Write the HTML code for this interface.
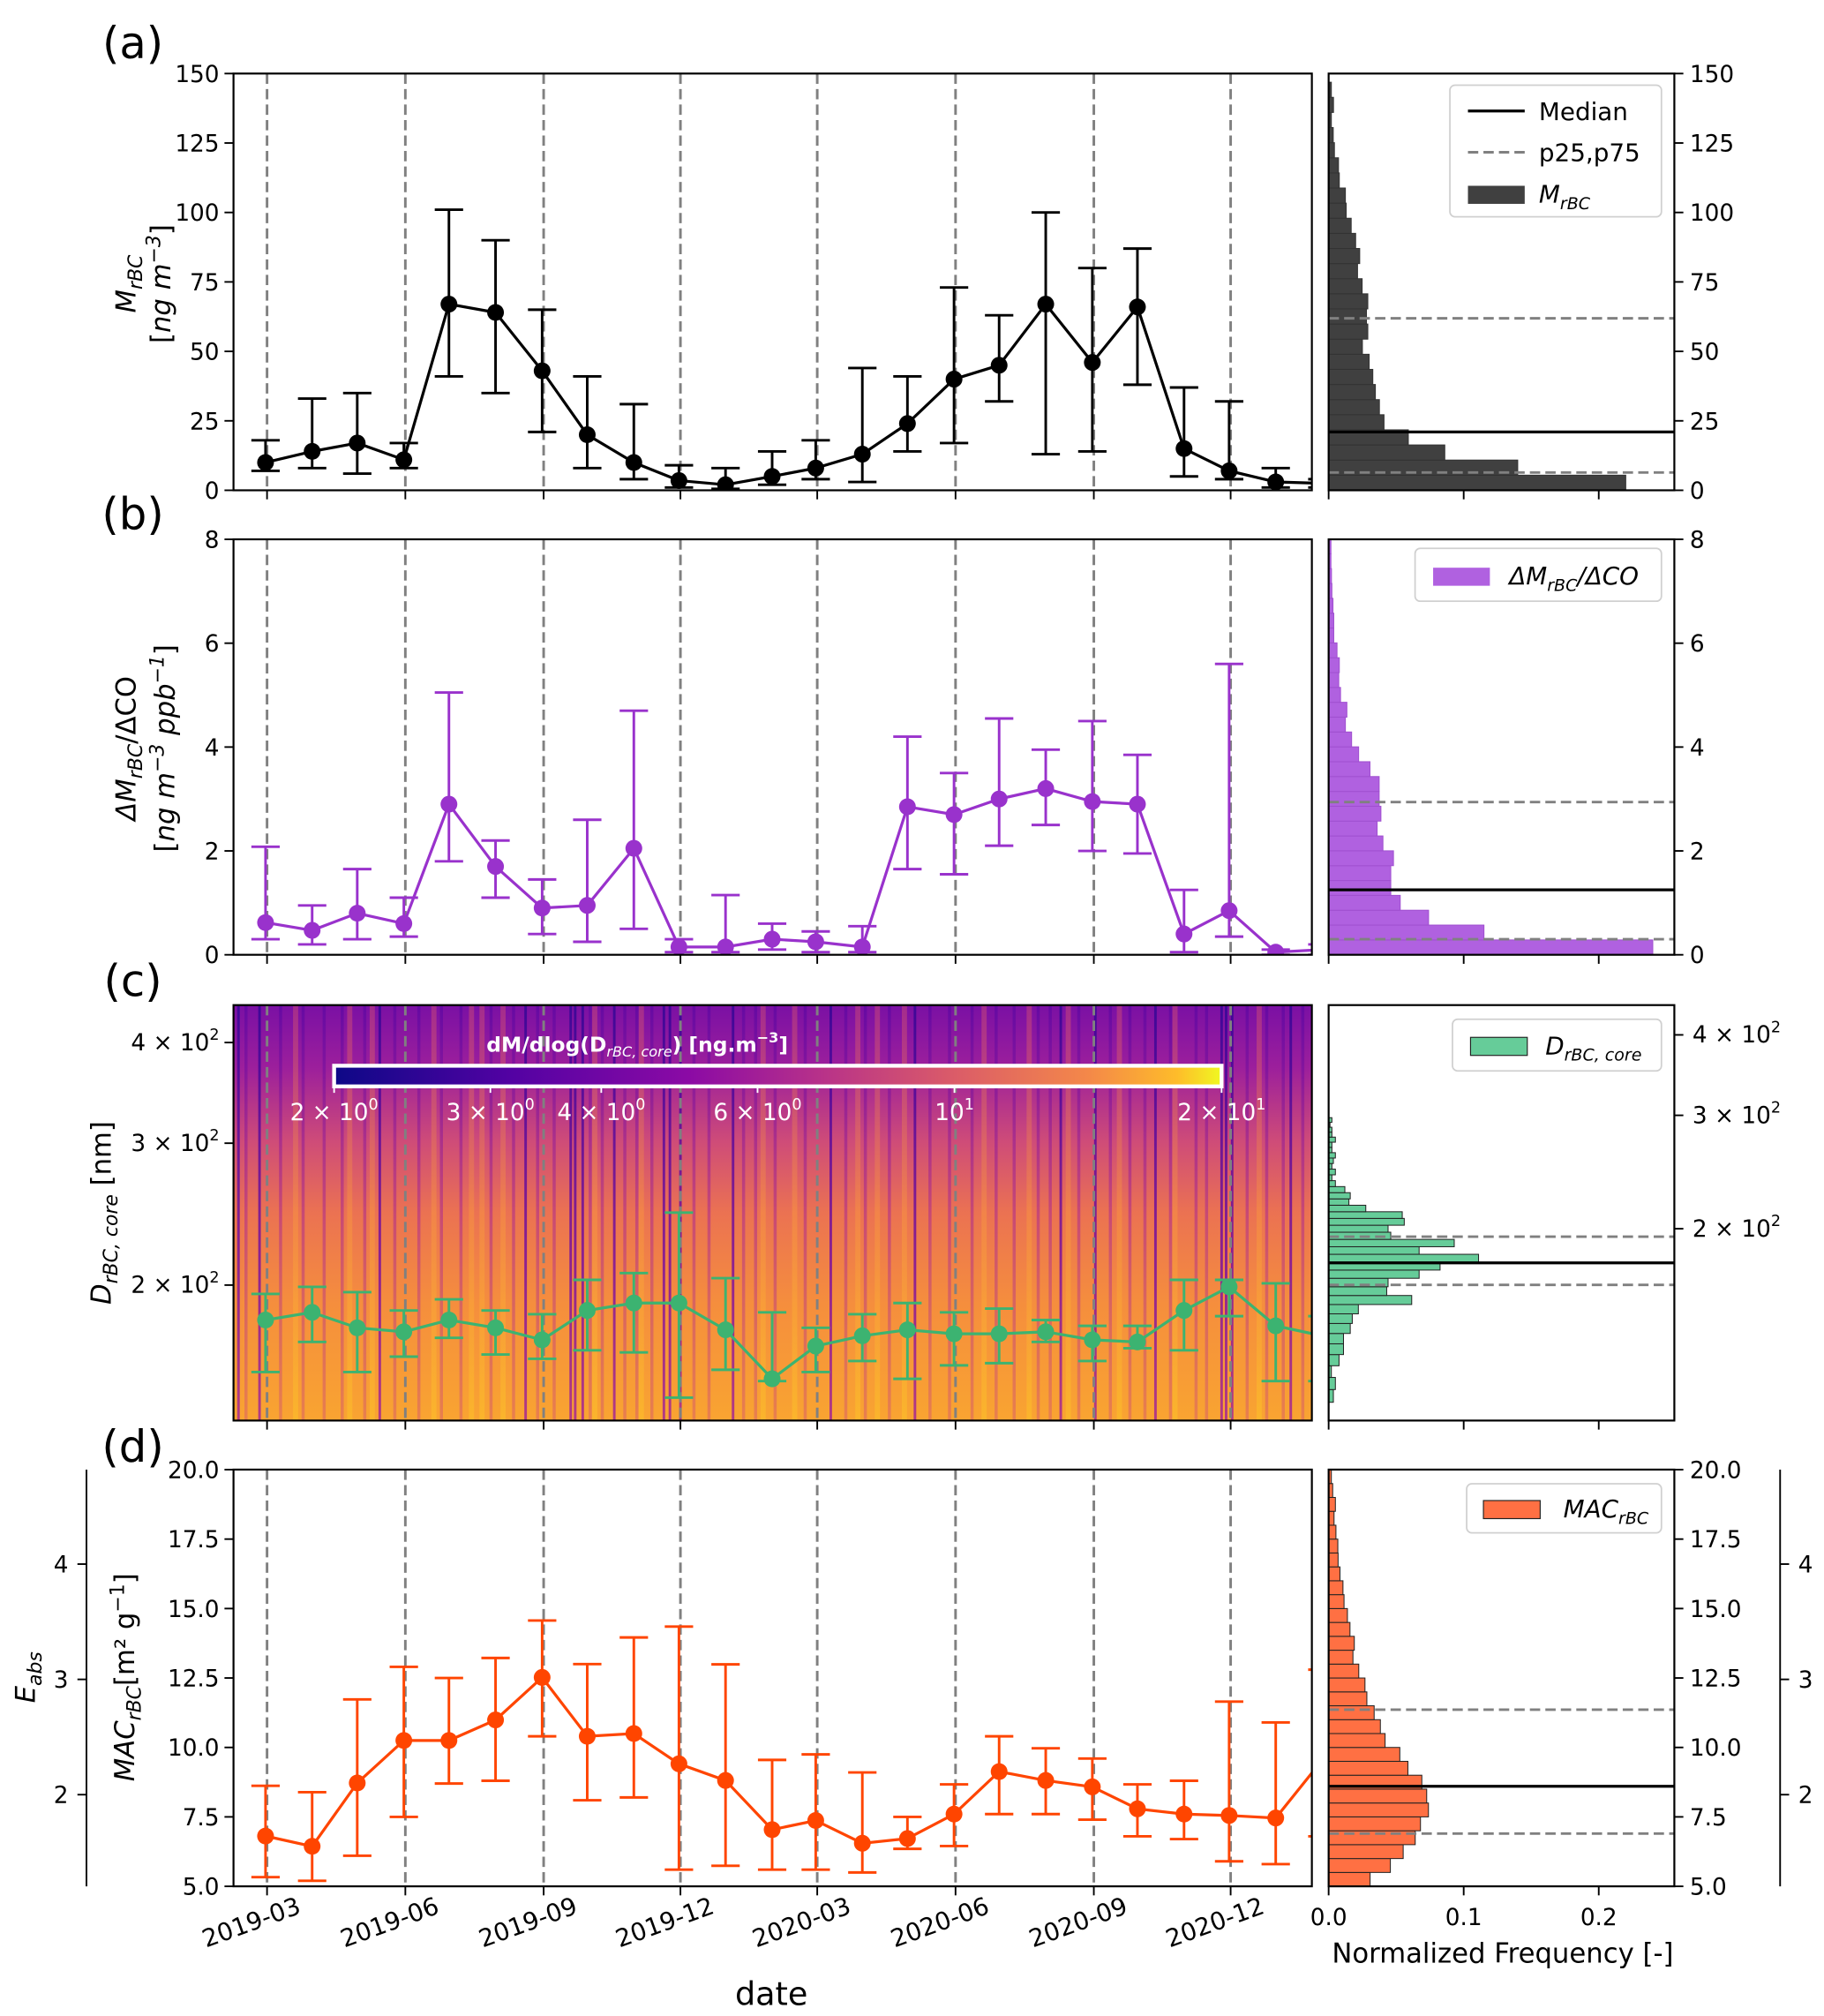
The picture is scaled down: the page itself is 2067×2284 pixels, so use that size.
<!DOCTYPE html>
<html><head><meta charset="utf-8">
<style>
html,body{margin:0;padding:0;background:#fff;}
svg{display:block;font-family:"DejaVu Sans","Liberation Sans",sans-serif;}
</style></head>
<body>
<svg id="fig" xmlns="http://www.w3.org/2000/svg" width="2067" height="2284" viewBox="0 0 1414 1562.5">
<defs>
<linearGradient id="heatGrad" x1="0" y1="0" x2="0" y2="1">
<stop offset="0" stop-color="#7a10a4"/>
<stop offset="0.15" stop-color="#9c1f9c"/>
<stop offset="0.33" stop-color="#cf4c78"/>
<stop offset="0.5" stop-color="#eb7252"/>
<stop offset="0.72" stop-color="#f58e3d"/>
<stop offset="1" stop-color="#f9a431"/>
</linearGradient>
<linearGradient id="plasma" x1="0" y1="0" x2="1" y2="0">
<stop offset="0" stop-color="#0d0887"/>
<stop offset="0.2" stop-color="#5302a3"/>
<stop offset="0.4" stop-color="#8b0aa5"/>
<stop offset="0.55" stop-color="#b83289"/>
<stop offset="0.7" stop-color="#db5c68"/>
<stop offset="0.85" stop-color="#f48849"/>
<stop offset="0.95" stop-color="#febc2a"/>
<stop offset="1" stop-color="#f0f921"/>
</linearGradient>
<linearGradient id="darkStreak" x1="0" y1="0" x2="0" y2="1">
<stop offset="0" stop-color="#2a0593"/>
<stop offset="0.6" stop-color="#6a00a8"/>
<stop offset="1" stop-color="#9c179e"/>
</linearGradient>
<linearGradient id="midStreak" x1="0" y1="0" x2="0" y2="1">
<stop offset="0" stop-color="#4c02a1"/>
<stop offset="0.5" stop-color="#9c179e"/>
<stop offset="1" stop-color="#d5546e"/>
</linearGradient>
<linearGradient id="lightStreak" x1="0" y1="0" x2="0" y2="1">
<stop offset="0" stop-color="#cc4778"/>
<stop offset="0.5" stop-color="#f89540"/>
<stop offset="1" stop-color="#fdc527"/>
</linearGradient>
<clipPath id="clipA"><rect x="181" y="57" width="836" height="323"/></clipPath>
<clipPath id="clipB"><rect x="181" y="418" width="836" height="322"/></clipPath>
<clipPath id="clipC"><rect x="181" y="779" width="836" height="322"/></clipPath>
<clipPath id="clipD"><rect x="181" y="1139" width="836" height="323"/></clipPath>
</defs>
</svg>
<script>
// ---------- DATA ----------
const months = ["2019-02-28","2019-03-31","2019-04-30","2019-05-31","2019-06-30","2019-07-31","2019-08-31","2019-09-30","2019-10-31","2019-11-30","2019-12-31","2020-01-31","2020-02-29","2020-03-31","2020-04-30","2020-05-31","2020-06-30","2020-07-31","2020-08-31","2020-09-30","2020-10-31","2020-11-30","2020-12-31","2021-01-31"];
const mrbcMed = [10,14,17,11,67,64,43,20,10,3.5,2,5,8,13,24,40,45,67,46,66,15,7,3,2.5];
const mrbcLo  = [7,8,6,8,41,35,21,8,4,1,0.5,2,4,3,14,17,32,13,14,38,5,4,1,1];
const mrbcHi  = [18,33,35,17,101,90,65,41,31,9,8,14,18,44,41,73,63,100,80,87,37,32,8,4];
const ratioMed = [0.62,0.47,0.8,0.6,2.9,1.7,0.9,0.95,2.05,0.15,0.15,0.3,0.25,0.15,2.85,2.7,3.0,3.2,2.95,2.9,0.4,0.85,0.05,0.1];
const ratioLo  = [0.3,0.2,0.3,0.35,1.8,1.1,0.4,0.25,0.5,0.05,0.05,0.1,0.05,0.05,1.65,1.55,2.1,2.5,2.0,1.95,0.05,0.35,0,0];
const ratioHi  = [2.08,0.95,1.65,1.1,5.05,2.2,1.45,2.6,4.7,0.3,1.15,0.6,0.45,0.55,4.2,3.5,4.55,3.95,4.5,3.85,1.25,5.6,0.1,0.2];
const dcoreMed = [181,185,177,175,181,177,171,186,190,190,176,153,168,173,176,174,174,175,171,170,186,199,178,173];
const dcoreLo  = [156,170,156,163,172,164,162,166,165,145,157,152,156,161,153,159,160,170,161,167,166,183,152,152];
const dcoreHi  = [195,199,196,186,192,186,184,203,207,246,204,185,177,184,190,185,187,181,178,178,203,203,201,183];
const macMed = [6.81,6.44,8.72,10.25,10.25,10.99,12.52,10.4,10.5,9.41,8.81,7.04,7.37,6.55,6.72,7.60,9.13,8.81,8.58,7.79,7.60,7.55,7.46,9.55];
const macLo  = [5.33,5.2,6.1,7.5,8.7,8.8,10.4,8.1,8.2,5.6,5.74,5.6,5.6,5.5,6.35,6.45,7.6,7.6,7.4,6.8,6.7,5.9,5.8,6.8];
const macHi  = [8.62,8.39,11.73,12.90,12.5,13.22,14.57,13.0,13.96,14.35,12.99,9.55,9.75,9.1,7.5,8.67,10.4,9.97,9.6,8.67,8.8,11.65,10.9,12.8];
const seasonLines = ["2019-03-01","2019-06-01","2019-09-01","2019-12-01","2020-03-01","2020-06-01","2020-09-01","2020-12-01"];
const dateTickLabels = ["2019-03","2019-06","2019-09","2019-12","2020-03","2020-06","2020-09","2020-12"];
// histograms (normalized frequency), bottom bin first
const histAFreq = [.220,.140,.086,.059,.041,.0376,.0346,.0327,.030,.025,.029,.028,.029,.0248,.0214,.023,.020,.0167,.013,.0124,.0079,.0073,.0043,.0034,.002,.0036,.002];
const histAStart = 0, histABin = 5.44;
const statsA = [6.4,21.0,61.9];
const histBFreq = [.240,.115,.074,.053,.046,.046,.048,.0402,.0359,.0387,.0374,.0374,.0306,.0222,.017,.0124,.0135,.0088,.0075,.0079,.0062,.0038,.0038,.0032,.0024,.0021,.0017,.0017];
const histBStart = 0, histBBin = 0.286;
const statsB = [0.30,1.25,2.94];
const histCFreq = [.0035,.005,.002,.0077,.011,.011,.016,.0175,.022,.0615,.043,.044,.067,.0825,.111,.067,.093,.046,.044,.056,.0545,.0275,.015,.016,.012,.005,.0024,.005,.0024,.0035,.005,.0024,.0024,.005,.0024,.0024,.001,.0024];
const histCStart = 107.5, histCBin = 5;
const statsC = [163.6,177,194.4];
const histDFreq = [.0307,.0457,.0552,.0641,.068,.0739,.0726,.069,.0587,.0527,.0418,.0383,.0337,.0283,.0269,.0223,.018,.019,.0158,.0139,.0114,.0106,.0084,.007,.0068,.0054,.004,.005,.003,.002];
const histDStart = 5, histDBin = 0.5;
const statsD = [6.9,8.6,11.36];
const ticksA = [0,25,50,75,100,125,150];
const ticksB = [0,2,4,6,8];
const ticksD = [5,7.5,10,12.5,15,17.5,20];
const ticksC = [200,300,400];
const ticksE = [2,3,4];
const histXTicks = [0,0.1,0.2];
const cbarTicks = [2,3,4,6,10,20];
const cbarTickLabels = [["2","0"],["3","0"],["4","0"],["6","0"],["","1"],["2","1"]];
const darkStreakDates = ["2019-02-10","2019-02-24","2019-05-15","2019-08-20","2019-09-19","2019-09-22","2019-09-27","2019-10-18","2019-11-20","2019-11-24","2019-12-01","2020-01-05","2020-03-10","2020-05-05","2020-08-10","2020-09-02","2020-10-12","2020-11-25","2020-11-28","2020-12-02","2021-01-10"];
const midStreakDates = ["2019-02-15","2019-03-10","2019-03-25","2019-04-08","2019-04-20","2019-05-05","2019-05-25","2019-06-10","2019-06-25","2019-07-08","2019-07-28","2019-08-12","2019-08-28","2019-09-08","2019-10-02","2019-10-10","2019-10-25","2019-11-02","2019-11-12","2019-12-10","2019-12-20","2020-01-12","2020-01-20","2020-02-02","2020-02-22","2020-03-20","2020-04-02","2020-04-18","2020-05-15","2020-05-28","2020-06-12","2020-06-28","2020-07-10","2020-07-26","2020-08-03","2020-08-22","2020-09-12","2020-09-25","2020-10-05","2020-10-22","2020-11-08","2020-11-15","2020-12-12","2020-12-25","2021-01-05","2021-01-18"];
const lightStreakDates = ["2019-03-20","2019-04-25","2019-06-20","2019-07-15","2019-08-05","2019-10-05","2019-11-05","2020-01-25","2020-02-15","2020-04-10","2020-04-28","2020-06-20","2020-07-20","2020-10-25","2020-12-20","2019-05-10","2019-07-22","2020-03-28","2020-08-15","2020-09-18"];

// ---------- SCALES ----------
const svg = document.getElementById('fig');
const NS = 'http://www.w3.org/2000/svg';
const day0 = Date.UTC(2019,2,1);
function xDate(s){const p=s.split('-');const t=Date.UTC(+p[0],+p[1]-1,+p[2]);return 207+(t-day0)/86400000*1.1654;}
const yA = v => 380 - v*(323/150);
const yB = v => 740 - v*(322/8);
const yC = v => 996 - 624.5*Math.log10(v/200);
const yCr = v => 952.3 - 499*Math.log10(v/200);
const yD = v => 1462 - (v-5)*21.53;
const yE = e => yD(e*4.15);
const xH = f => 1030 + f*1047;

function mk(tag, attrs, parent){const e=document.createElementNS(NS,tag);for(const k in attrs)e.setAttribute(k,attrs[k]);(parent||svg).appendChild(e);return e;}
function txt(x,y,s,size,anchor,parent,extra){const t=mk('text',Object.assign({x:x,y:y,'font-size':size,'text-anchor':anchor||'middle',fill:'#000'},extra||{}),parent);t.textContent=s;return t;}

// ---------- PANELS ----------
const panels = [
 {id:'a',top:57,bot:380,clip:'clipA',y:yA,med:mrbcMed,lo:mrbcLo,hi:mrbcHi,color:'#000000',ticks:ticksA,fmt:v=>String(v)},
 {id:'b',top:418,bot:740,clip:'clipB',y:yB,med:ratioMed,lo:ratioLo,hi:ratioHi,color:'#9932cc',ticks:ticksB,fmt:v=>String(v)},
 {id:'c',top:779,bot:1101,clip:'clipC',y:yC,med:dcoreMed,lo:dcoreLo,hi:dcoreHi,color:'#3cb371',ticks:[],fmt:null},
 {id:'d',top:1139,bot:1462,clip:'clipD',y:yD,med:macMed,lo:macLo,hi:macHi,color:'#ff4500',ticks:ticksD,fmt:v=>v.toFixed(1)}
];

panels.forEach(p=>{
  const g = mk('g',{});
  
  
  const inner = mk('g',{'clip-path':'url(#'+p.clip+')'},g);
  if(p.id==='c'){
    const heat = mk('g',{},inner);
    
    
    mk('rect',{x:181,y:779,width:836,height:322,fill:'url(#heatGrad)'},heat);
    lightStreakDates.forEach(d=>{const r=mk('rect',{x:xDate(d)-2,y:779,width:4,height:322,fill:'url(#lightStreak)',opacity:0.5},heat);
      
      });
    midStreakDates.forEach(d=>{const r=mk('rect',{x:xDate(d)-1.2,y:779,width:2.4,height:322,fill:'url(#midStreak)',opacity:0.45},heat);
      
      });
    darkStreakDates.forEach(d=>{const r=mk('rect',{x:xDate(d)-1,y:779,width:2,height:322,fill:'url(#darkStreak)',opacity:0.75},heat);
      
      });
  }
  seasonLines.forEach(d=>{const l=mk('line',{x1:xDate(d),x2:xDate(d),y1:p.top,y2:p.bot,stroke:'#808080','stroke-width':2,'stroke-dasharray':'8,4'},inner);
    
    });
  const pts = months.map((m,i)=>[xDate(m),p.y(p.med[i])]);
  const line = mk('polyline',{points:pts.map(q=>q.join(',')).join(' '),fill:'none',stroke:p.color,'stroke-width':2.2},inner);
  
  
  months.forEach((m,i)=>{
    const x=xDate(m), y1=p.y(p.hi[i]), y2=p.y(Math.max(p.lo[i], p.id==='c'?1:0));
    const eb=mk('path',{d:`M${x},${y1}V${y2}M${x-11},${y1}H${x+11}M${x-11},${y2}H${x+11}`,stroke:p.color,'stroke-width':2,fill:'none'},inner);
    
    
    const c=mk('circle',{cx:x,cy:p.y(p.med[i]),r:6.5,fill:p.color},inner);
    
    
  });
  mk('rect',{x:181,y:p.top,width:836,height:p.bot-p.top,fill:'none',stroke:'#000','stroke-width':1.5},g);
  seasonLines.forEach(d=>mk('line',{x1:xDate(d),x2:xDate(d),y1:p.bot,y2:p.bot+7,stroke:'#000','stroke-width':1.3},g));
  p.ticks.forEach(v=>{const y=p.y(v);mk('line',{x1:174,x2:181,y1:y,y2:y,stroke:'#000','stroke-width':1.3},g);
    const t=txt(170,y+6.5,p.fmt(v),18,'end',g);
    
    });
});

function sciLabel(x,y,m,e,anchor,parent,col){
  const t=mk('text',{x:x,y:y,'font-size':18,'text-anchor':anchor,fill:col||'#000'},parent);
  if(m!==''){const a=mk('tspan',{},t);a.textContent=m+' \u00d7 ';}
  const b=mk('tspan',{},t);b.textContent='10';
  const c=mk('tspan',{'font-size':12,dy:-8},t);c.textContent=e;
  return t;
}
ticksC.forEach(v=>{const y=yC(v);mk('line',{x1:174,x2:181,y1:y,y2:y,stroke:'#000','stroke-width':1.3});
  const t=sciLabel(170,y+6,String(v/100),'2','end');
  
  });

// colorbar
const cb = mk('g',{});


const cbX = v => 259 + Math.log10(v/2)*688;
mk('rect',{x:259,y:826,width:688,height:16,fill:'url(#plasma)',stroke:'#fff','stroke-width':3},cb);
cbarTicks.forEach((v,i)=>{const x=cbX(v);mk('line',{x1:x,x2:x,y1:842,y2:847,stroke:'#fff','stroke-width':1.3},cb);
  const t=sciLabel(x,868,cbarTickLabels[i][0],cbarTickLabels[i][1],'middle',cb,'#fff');
  
  });
(function(){const t=mk('text',{x:494,y:815,'font-size':16,'font-weight':'bold','text-anchor':'middle',fill:'#fff'},cb);
  
  
  let s=mk('tspan',{},t);s.textContent='dM/dlog(D';
  s=mk('tspan',{'font-size':11,dy:4,'font-style':'italic','font-weight':'normal'},t);s.textContent='rBC, core';
  s=mk('tspan',{dy:-4},t);s.textContent=') [ng.m';
  s=mk('tspan',{'font-size':11,dy:-7},t);s.textContent='\u22123';
  s=mk('tspan',{dy:7},t);s.textContent=']';})();

dateTickLabels.forEach((s,i)=>{const x=xDate(seasonLines[i]);
  const t=txt(0,0,s,19,'middle',svg,{transform:`translate(${x-10},${1496}) rotate(-20)`});
  
  });
(function(){const t=txt(598,1554,'date',25,'middle');})();

// ---------- HISTOGRAMS ----------
const hists = [
 {id:'a',top:57,bot:380,y:yA,freq:histAFreq,start:histAStart,bin:histABin,stats:statsA,fill:'#404040',stroke:'#333',ticks:ticksA,fmt:v=>String(v)},
 {id:'b',top:418,bot:740,y:yB,freq:histBFreq,start:histBStart,bin:histBBin,stats:statsB,fill:'#b061e0',stroke:'#a050d0',ticks:ticksB,fmt:v=>String(v)},
 {id:'c',top:779,bot:1101,y:yCr,freq:histCFreq,start:histCStart,bin:histCBin,stats:statsC,fill:'#66cc99',stroke:'#222',ticks:[],fmt:null},
 {id:'d',top:1139,bot:1462,y:yD,freq:histDFreq,start:histDStart,bin:histDBin,stats:statsD,fill:'#ff7043',stroke:'#222',ticks:ticksD,fmt:v=>v.toFixed(1)}
];
hists.forEach(h=>{
  const g=mk('g',{});
  
  
  h.freq.forEach((f,i)=>{const lo=h.start+i*h.bin, hi=lo+h.bin;
    const y1=Math.max(h.y(hi),h.top), y2=Math.min(h.y(lo),h.bot);
    if(y2<=y1) return;
    const r=mk('rect',{x:1030,y:y1,width:xH(f)-1030,height:y2-y1,fill:h.fill,stroke:h.stroke,'stroke-width':0.7},g);
    
    });
  [h.stats[0],h.stats[2]].forEach(v=>{const y=h.y(v);const l=mk('line',{x1:1030,x2:1298,y1:y,y2:y,stroke:'#808080','stroke-width':2,'stroke-dasharray':'8,4'},g);
    
    });
  (function(){const y=h.y(h.stats[1]);const l=mk('line',{x1:1030,x2:1298,y1:y,y2:y,stroke:'#000','stroke-width':2.2},g);
    
    })();
  mk('rect',{x:1030,y:h.top,width:268,height:h.bot-h.top,fill:'none',stroke:'#000','stroke-width':1.5},g);
  histXTicks.forEach(v=>mk('line',{x1:xH(v),x2:xH(v),y1:h.bot,y2:h.bot+7,stroke:'#000','stroke-width':1.3},g));
  h.ticks.forEach(v=>{const y=h.y(v);mk('line',{x1:1298,x2:1305,y1:y,y2:y,stroke:'#000','stroke-width':1.3},g);
    const t=txt(1310,y+6.5,h.fmt(v),18,'start',g);
    
    });
});
ticksC.forEach(v=>{const y=yCr(v);mk('line',{x1:1298,x2:1305,y1:y,y2:y,stroke:'#000','stroke-width':1.3});
  const t=sciLabel(1312,y+6,String(v/100),'2','start');
  
  });
histXTicks.forEach(v=>{const t=txt(xH(v),1492,v.toFixed(1),18,'middle');
  
  });
(function(){const t=txt(1165,1521,'Normalized Frequency [-]',21,'middle');})();

[[67,-1],[1380,1]].forEach(([x,dir])=>{
  const g=mk('g',{});
  
  
  mk('line',{x1:x,x2:x,y1:1139,y2:1462,stroke:'#000','stroke-width':1.3},g);
  ticksE.forEach(e=>{const y=yE(e);mk('line',{x1:x,x2:x+dir*7,y1:y,y2:y,stroke:'#000','stroke-width':1.3},g);
    const t=txt(x+dir*14,y+6.5,String(e),18,dir<0?'end':'start',g);
    
    });
});

// ---------- AXIS TITLES ----------
function rotLabel(x,y,parts,name){
  const t=mk('text',{x:0,y:0,'font-size':21,'text-anchor':'middle',transform:`translate(${x},${y}) rotate(-90)`});
  
  
  parts.forEach(p=>{const s=mk('tspan',p.a||{},t);s.textContent=p.s;});
  return t;
}
const I={'font-style':'italic'};
rotLabel(105,220,[{s:'M',a:I},{s:'rBC',a:{'font-style':'italic','font-size':15,dy:5}}],'y-axis-title-a');
rotLabel(132,220,[{s:'[',a:{}},{s:'ng  m',a:I},{s:'\u22123',a:{'font-style':'italic','font-size':15,dy:-8}},{s:']',a:{dy:8}}],'y-axis-units-a');
rotLabel(105,580,[{s:'\u0394M',a:I},{s:'rBC',a:{'font-style':'italic','font-size':15,dy:5}},{s:'/\u0394CO',a:{dy:-5}}],'y-axis-title-b');
rotLabel(135,580,[{s:'[',a:{}},{s:'ng  m',a:I},{s:'\u22123',a:{'font-style':'italic','font-size':15,dy:-8}},{s:'  ppb',a:{'font-style':'italic',dy:8}},{s:'\u22121',a:{'font-style':'italic','font-size':15,dy:-8}},{s:']',a:{dy:8}}],'y-axis-units-b');
rotLabel(86,940,[{s:'D',a:I},{s:'rBC, core',a:{'font-style':'italic','font-size':15,dy:5}},{s:' [nm]',a:{dy:-5}}],'y-axis-title-c');
rotLabel(104,1300,[{s:'MAC',a:I},{s:'rBC',a:{'font-style':'italic','font-size':15,dy:5}},{s:'[m\u00b2 g',a:{dy:-5}},{s:'\u22121',a:{'font-size':15,dy:-8}},{s:']',a:{dy:8}}],'y-axis-title-d');
rotLabel(27,1300,[{s:'E',a:I},{s:'abs',a:{'font-style':'italic','font-size':15,dy:5}}],'eabs-axis-title');

[['(a)',45],['(b)',410],['(c)',772],['(d)',1133]].forEach(([s,y])=>{const t=txt(103,y,s,34,'middle');
  
  });

// ---------- LEGENDS ----------
function legendBox(x,y,w,h,name){const g=mk('g',{});
  mk('rect',{x:x,y:y,width:w,height:h,rx:4,fill:'#fff','fill-opacity':0.85,stroke:'#d0d0d0','stroke-width':1.2},g);return g;}
(function(){const g=legendBox(1124,66,164,102,'legend-a');
  mk('line',{x1:1138,x2:1182,y1:86,y2:86,stroke:'#000','stroke-width':2.2},g);
  txt(1193,93,'Median',19,'start',g);
  mk('line',{x1:1138,x2:1182,y1:118,y2:118,stroke:'#808080','stroke-width':2,'stroke-dasharray':'8,4'},g);
  txt(1193,125,'p25,p75',19,'start',g);
  mk('rect',{x:1138,y:144,width:44,height:14,fill:'#404040'},g);
  const t=mk('text',{x:1193,y:157,'font-size':19,'font-style':'italic'},g);
  let s=mk('tspan',{},t);s.textContent='M';s=mk('tspan',{'font-size':13,dy:5},t);s.textContent='rBC';})();
(function(){const g=legendBox(1097,425,191,41,'legend-b');
  mk('rect',{x:1111,y:440,width:44,height:14,fill:'#b061e0'},g);
  const t=mk('text',{x:1170,y:453,'font-size':19,'font-style':'italic'},g);
  let s=mk('tspan',{},t);s.textContent='\u0394M';s=mk('tspan',{'font-size':13,dy:5},t);s.textContent='rBC';s=mk('tspan',{dy:-5},t);s.textContent='/\u0394CO';})();
(function(){const g=legendBox(1126,790,162,40,'legend-c');
  mk('rect',{x:1140,y:804,width:44,height:14,fill:'#66cc99',stroke:'#222','stroke-width':0.8},g);
  const t=mk('text',{x:1198,y:817,'font-size':19,'font-style':'italic'},g);
  let s=mk('tspan',{},t);s.textContent='D';s=mk('tspan',{'font-size':13,dy:5},t);s.textContent='rBC, core';})();
(function(){const g=legendBox(1137,1150,151,38,'legend-d');
  mk('rect',{x:1150,y:1163,width:44,height:14,fill:'#ff7043',stroke:'#222','stroke-width':0.8},g);
  const t=mk('text',{x:1212,y:1176,'font-size':19,'font-style':'italic'},g);
  let s=mk('tspan',{},t);s.textContent='MAC';s=mk('tspan',{'font-size':13,dy:5},t);s.textContent='rBC';})();
</script>
</body></html>
